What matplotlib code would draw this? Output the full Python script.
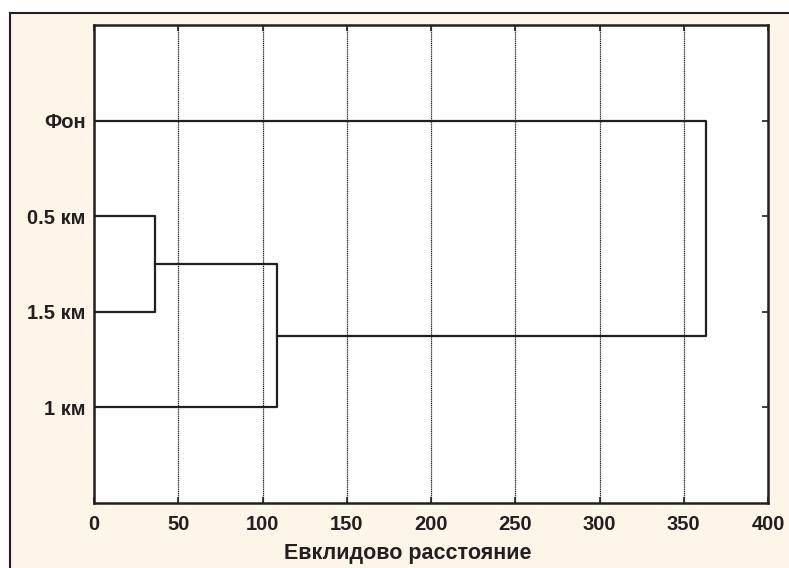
import matplotlib
matplotlib.use('Agg')
import matplotlib.pyplot as plt
from matplotlib.lines import Line2D

# leaves listed from top to bottom
leaves = ['Фон', '0.5 км', '1.5 км', '1 км']
# linkage distances of the three merges
merge_05_15 = 36
merge_1km = 108.5
merge_fon = 363.5
xticks = [0, 50, 100, 150, 200, 250, 300, 350, 400]
xlabel = 'Евклидово расстояние'

plt.rcParams['font.family'] = ['Liberation Sans', 'DejaVu Sans']
bg = '#fdf5e8'
lc = '#231f20'

fig = plt.figure(figsize=(7.89, 5.68), dpi=100)
fig.patch.set_facecolor('white')

# cream panel with frame on left and top
W, H = 789, 568
panel = plt.Rectangle((9.5 / W, 0), 1, 1 - 12.5 / H, transform=fig.transFigure,
                      facecolor=bg, edgecolor='none', zorder=-10)
fig.patches.append(panel)
fig.lines.append(Line2D([9.5 / W, 9.5 / W], [0, 1 - 12.5 / H], transform=fig.transFigure,
                        color=lc, lw=1.5, zorder=-5))
fig.lines.append(Line2D([9.5 / W, 1], [1 - 12.5 / H, 1 - 12.5 / H], transform=fig.transFigure,
                        color=lc, lw=1.5, zorder=-5))

ax = fig.add_axes([94 / W, 1 - 503 / H, (768 - 94) / W, (503 - 25) / H])
ax.set_facecolor('white')

ypos = {name: i + 1 for i, name in enumerate(leaves)}

# first cluster: 0.5 км + 1.5 км
y1 = ypos['0.5 км']
y2 = ypos['1.5 км']
c1 = (y1 + y2) / 2
ax.plot([0, merge_05_15, merge_05_15, 0], [y1, y1, y2, y2], color=lc, lw=1.6, zorder=3)

# second cluster: (0.5,1.5) + 1 км
y3 = ypos['1 км']
c2 = (c1 + y3) / 2
ax.plot([merge_05_15, merge_1km, merge_1km, 0], [c1, c1, y3, y3], color=lc, lw=1.6, zorder=3)

# final: Фон + rest
y0 = ypos['Фон']
ax.plot([0, merge_fon, merge_fon, merge_1km], [y0, y0, c2, c2], color=lc, lw=1.6, zorder=3)

ax.set_xlim(0, 400)
ax.set_ylim(5, 0)
ax.set_xticks(xticks)
ax.set_xticklabels([str(t) for t in xticks])
ax.set_yticks([ypos[n] for n in leaves])
ax.set_yticklabels(leaves)
ax.xaxis.grid(True, color='#2a2a2a', lw=0.9, linestyle=(0, (1, 0.5)))
ax.set_axisbelow(True)

ax.tick_params(axis='both', direction='in', length=4, width=1.2, colors=lc,
               labelsize=14.5, top=True, right=True)
ax.tick_params(axis='x', pad=9)
ax.tick_params(axis='y', pad=6)
for lab in ax.get_xticklabels() + ax.get_yticklabels():
    lab.set_fontweight('bold')
    lab.set_color(lc)
for sp in ax.spines.values():
    sp.set_color(lc)
    sp.set_linewidth(1.8)

ax.set_xlabel(xlabel, fontsize=15.5, fontweight='bold', color=lc, va='center')
ax.xaxis.set_label_coords((408 - 94) / 674, (503 - 553) / 478)

fig.savefig('out.png', dpi=100, facecolor=fig.get_facecolor())
